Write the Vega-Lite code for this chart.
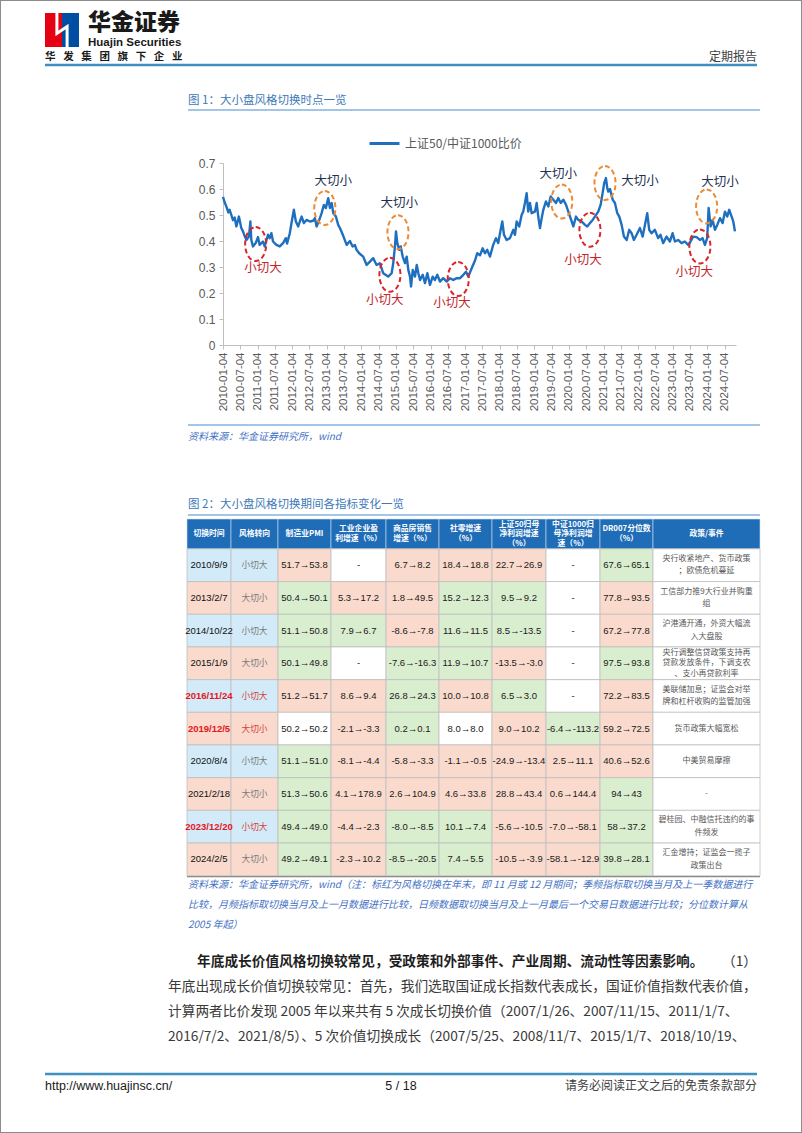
{
"$schema": "https://vega.github.io/schema/vega-lite/v6.json",
"width": 802,
"height": 1133,
"padding": 0,
"autosize": {"type": "none"},
"background": "#ffffff",
"config": {"view": {"stroke": "#8c8c8c", "strokeWidth": 2}, "font": "Noto Sans CJK SC"},
"datasets": {
"ratio": [
{"d":"2010-01-04","v":0.57},{"d":"2010-01-20","v":0.55},{"d":"2010-02-08","v":0.533},{"d":"2010-03-01","v":0.51},{"d":"2010-03-15","v":0.52},{"d":"2010-04-02","v":0.50},{"d":"2010-04-19","v":0.48},{"d":"2010-05-07","v":0.49},{"d":"2010-05-25","v":0.456},{"d":"2010-06-21","v":0.494},{"d":"2010-07-16","v":0.45},{"d":"2010-08-03","v":0.437},{"d":"2010-08-20","v":0.42},{"d":"2010-09-08","v":0.404},{"d":"2010-10-05","v":0.417},{"d":"2010-10-20","v":0.475},{"d":"2010-10-30","v":0.404},{"d":"2010-11-16","v":0.379},{"d":"2010-12-15","v":0.392},
{"d":"2011-01-08","v":0.415},{"d":"2011-01-26","v":0.385},{"d":"2011-03-02","v":0.398},{"d":"2011-03-20","v":0.379},{"d":"2011-04-24","v":0.424},{"d":"2011-05-12","v":0.411},{"d":"2011-05-30","v":0.43},{"d":"2011-06-16","v":0.398},{"d":"2011-07-22","v":0.385},{"d":"2011-08-26","v":0.379},{"d":"2011-09-30","v":0.392},{"d":"2011-10-29","v":0.411},{"d":"2011-11-11","v":0.39},{"d":"2011-12-10","v":0.43},{"d":"2011-12-28","v":0.469},
{"d":"2012-01-22","v":0.52},{"d":"2012-02-12","v":0.475},{"d":"2012-03-08","v":0.456},{"d":"2012-03-25","v":0.475},{"d":"2012-04-13","v":0.494},{"d":"2012-05-07","v":0.469},{"d":"2012-06-04","v":0.481},{"d":"2012-07-09","v":0.475},{"d":"2012-08-13","v":0.478},{"d":"2012-08-31","v":0.488},{"d":"2012-09-18","v":0.456},{"d":"2012-10-15","v":0.48},{"d":"2012-11-10","v":0.507},{"d":"2012-12-04","v":0.539},{"d":"2012-12-25","v":0.527},
{"d":"2013-01-19","v":0.565},{"d":"2013-02-06","v":0.527},{"d":"2013-02-24","v":0.546},{"d":"2013-03-13","v":0.507},{"d":"2013-04-10","v":0.494},{"d":"2013-05-04","v":0.462},{"d":"2013-05-22","v":0.45},{"d":"2013-06-26","v":0.42},{"d":"2013-08-01","v":0.385},{"d":"2013-09-05","v":0.40},{"d":"2013-10-03","v":0.379},{"d":"2013-10-27","v":0.385},{"d":"2013-11-14","v":0.366},{"d":"2013-12-11","v":0.353},
{"d":"2014-01-23","v":0.34},{"d":"2014-02-28","v":0.308},{"d":"2014-04-04","v":0.321},{"d":"2014-05-08","v":0.334},{"d":"2014-06-13","v":0.308},{"d":"2014-07-18","v":0.314},{"d":"2014-08-22","v":0.276},{"d":"2014-10-14","v":0.263},{"d":"2014-11-19","v":0.276},{"d":"2014-12-06","v":0.315},{"d":"2014-12-24","v":0.379},
{"d":"2015-01-04","v":0.437},{"d":"2015-01-18","v":0.392},{"d":"2015-02-08","v":0.366},{"d":"2015-02-23","v":0.379},{"d":"2015-03-16","v":0.34},{"d":"2015-04-09","v":0.315},{"d":"2015-04-27","v":0.34},{"d":"2015-05-14","v":0.289},{"d":"2015-06-01","v":0.263},{"d":"2015-06-12","v":0.225},{"d":"2015-06-30","v":0.289},{"d":"2015-07-24","v":0.263},{"d":"2015-08-11","v":0.308},{"d":"2015-08-28","v":0.276},{"d":"2015-09-15","v":0.25},{"d":"2015-10-13","v":0.27},{"d":"2015-11-06","v":0.238},{"d":"2015-12-01","v":0.276},{"d":"2015-12-29","v":0.231},
{"d":"2016-01-26","v":0.263},{"d":"2016-02-19","v":0.25},{"d":"2016-03-15","v":0.27},{"d":"2016-04-12","v":0.244},{"d":"2016-05-17","v":0.257},{"d":"2016-06-22","v":0.244},{"d":"2016-07-27","v":0.257},{"d":"2016-08-31","v":0.25},{"d":"2016-10-06","v":0.257},{"d":"2016-11-10","v":0.257},{"d":"2016-12-15","v":0.27},
{"d":"2017-01-12","v":0.282},{"d":"2017-02-05","v":0.263},{"d":"2017-03-13","v":0.295},{"d":"2017-04-17","v":0.325},{"d":"2017-05-11","v":0.353},{"d":"2017-06-09","v":0.345},{"d":"2017-07-07","v":0.372},{"d":"2017-07-31","v":0.353},{"d":"2017-08-24","v":0.366},{"d":"2017-09-22","v":0.34},{"d":"2017-10-26","v":0.385},{"d":"2017-11-24","v":0.411},{"d":"2017-12-18","v":0.392},
{"d":"2018-01-13","v":0.443},{"d":"2018-01-30","v":0.475},{"d":"2018-02-17","v":0.424},{"d":"2018-03-17","v":0.404},{"d":"2018-04-21","v":0.411},{"d":"2018-05-26","v":0.443},{"d":"2018-06-13","v":0.424},{"d":"2018-07-01","v":0.475},{"d":"2018-07-28","v":0.456},{"d":"2018-08-22","v":0.50},{"d":"2018-09-08","v":0.513},{"d":"2018-09-26","v":0.546},{"d":"2018-10-14","v":0.584},{"d":"2018-10-31","v":0.513},{"d":"2018-11-18","v":0.546},{"d":"2018-12-06","v":0.507},
{"d":"2019-01-10","v":0.513},{"d":"2019-01-28","v":0.546},{"d":"2019-02-14","v":0.494},{"d":"2019-03-04","v":0.45},{"d":"2019-03-22","v":0.488},{"d":"2019-04-08","v":0.52},{"d":"2019-05-06","v":0.552},{"d":"2019-05-31","v":0.533},{"d":"2019-06-25","v":0.571},{"d":"2019-07-23","v":0.559},{"d":"2019-08-20","v":0.546},{"d":"2019-09-13","v":0.565},{"d":"2019-10-09","v":0.546},{"d":"2019-11-05","v":0.559},{"d":"2019-12-04","v":0.539},{"d":"2019-12-28","v":0.513},
{"d":"2020-01-15","v":0.494},{"d":"2020-02-02","v":0.475},{"d":"2020-02-19","v":0.456},{"d":"2020-03-18","v":0.494},{"d":"2020-04-11","v":0.481},{"d":"2020-05-17","v":0.475},{"d":"2020-06-21","v":0.462},{"d":"2020-07-15","v":0.456},{"d":"2020-08-13","v":0.469},{"d":"2020-09-10","v":0.481},{"d":"2020-10-04","v":0.494},{"d":"2020-11-08","v":0.513},{"d":"2020-12-03","v":0.539},{"d":"2020-12-24","v":0.584},
{"d":"2021-01-10","v":0.623},{"d":"2021-01-28","v":0.642},{"d":"2021-02-11","v":0.604},{"d":"2021-02-22","v":0.59},{"d":"2021-03-12","v":0.60},{"d":"2021-04-09","v":0.559},{"d":"2021-05-03","v":0.546},{"d":"2021-05-28","v":0.507},{"d":"2021-06-18","v":0.494},{"d":"2021-07-13","v":0.462},{"d":"2021-08-06","v":0.417},{"d":"2021-09-04","v":0.404},{"d":"2021-10-01","v":0.443},{"d":"2021-10-26","v":0.43},{"d":"2021-11-19","v":0.404},{"d":"2021-12-18","v":0.424},
{"d":"2022-01-22","v":0.45},{"d":"2022-02-20","v":0.417},{"d":"2022-03-16","v":0.462},{"d":"2022-04-09","v":0.507},{"d":"2022-04-30","v":0.443},{"d":"2022-05-25","v":0.43},{"d":"2022-06-29","v":0.443},{"d":"2022-08-02","v":0.411},{"d":"2022-08-27","v":0.424},{"d":"2022-09-24","v":0.392},{"d":"2022-10-30","v":0.417},{"d":"2022-12-04","v":0.398},
{"d":"2023-01-02","v":0.43},{"d":"2023-01-26","v":0.398},{"d":"2023-03-01","v":0.404},{"d":"2023-04-06","v":0.392},{"d":"2023-05-11","v":0.398},{"d":"2023-06-15","v":0.385},{"d":"2023-07-10","v":0.398},{"d":"2023-08-07","v":0.417},{"d":"2023-09-12","v":0.415},{"d":"2023-10-17","v":0.404},{"d":"2023-11-14","v":0.411},{"d":"2023-12-09","v":0.385},
{"d":"2024-01-02","v":0.411},{"d":"2024-01-17","v":0.527},{"d":"2024-02-07","v":0.456},{"d":"2024-02-28","v":0.481},{"d":"2024-03-24","v":0.443},{"d":"2024-04-17","v":0.462},{"d":"2024-05-16","v":0.488},{"d":"2024-06-13","v":0.469},{"d":"2024-07-07","v":0.513},{"d":"2024-07-31","v":0.494},{"d":"2024-08-21","v":0.52},{"d":"2024-09-16","v":0.494},{"d":"2024-10-03","v":0.475},{"d":"2024-10-21","v":0.437}
],
"rings": [
{"d":"2010-12-15","v":0.388,"k":"小切大"},{"d":"2012-12-14","v":0.527,"k":"大切小"},{"d":"2014-11-01","v":0.27,"k":"小切大"},{"d":"2015-01-25","v":0.434,"k":"大切小"},{"d":"2016-10-22","v":0.254,"k":"小切大"},{"d":"2019-10-20","v":0.552,"k":"大切小"},{"d":"2020-08-12","v":0.443,"k":"小切大"},{"d":"2021-01-18","v":0.623,"k":"大切小"},{"d":"2023-10-17","v":0.379,"k":"小切大"},{"d":"2023-12-27","v":0.533,"k":"大切小"}
],
"tags": [
{"d":"2011-03-02","v":0.295,"k":"小切大"},{"d":"2013-03-13","v":0.629,"k":"大切小"},{"d":"2014-09-08","v":0.175,"k":"小切大"},{"d":"2015-02-08","v":0.546,"k":"大切小"},{"d":"2016-08-16","v":0.16,"k":"小切大"},{"d":"2019-09-13","v":0.659,"k":"大切小"},{"d":"2020-06-01","v":0.327,"k":"小切大"},{"d":"2022-01-22","v":0.629,"k":"大切小"},{"d":"2023-08-17","v":0.282,"k":"小切大"},{"d":"2024-05-16","v":0.627,"k":"大切小"}
],
"cells": [
{"r":0,"c":0,"t":"切换时间","s":"head"},{"r":0,"c":1,"t":"风格转向","s":"head"},{"r":0,"c":2,"t":"制造业PMI","s":"head"},{"r":0,"c":3,"t":"工业企业盈\n利增速（%）","s":"head"},{"r":0,"c":4,"t":"商品房销售\n增速（%）","s":"head"},{"r":0,"c":5,"t":"社零增速\n（%）","s":"head"},{"r":0,"c":6,"t":"上证50归母\n净利润增速\n（%）","s":"head"},{"r":0,"c":7,"t":"中证1000归\n母净利润增\n速（%）","s":"head"},{"r":0,"c":8,"t":"DR007分位数\n（%）","s":"head"},{"r":0,"c":9,"t":"政策/事件","s":"head"},
{"r":1,"c":0,"t":"2010/9/9","s":"xq"},{"r":1,"c":1,"t":"小切大","s":"xq"},{"r":1,"c":2,"t":"51.7→53.8","s":"up"},{"r":1,"c":3,"t":"-","s":"na"},{"r":1,"c":4,"t":"6.7→8.2","s":"up"},{"r":1,"c":5,"t":"18.4→18.8","s":"up"},{"r":1,"c":6,"t":"22.7→26.9","s":"up"},{"r":1,"c":7,"t":"-","s":"na"},{"r":1,"c":8,"t":"67.6→65.1","s":"down"},{"r":1,"c":9,"t":"央行收紧地产、货币政策\n；欧债危机蔓延","s":"na"},
{"r":2,"c":0,"t":"2013/2/7","s":"dq"},{"r":2,"c":1,"t":"大切小","s":"dq"},{"r":2,"c":2,"t":"50.4→50.1","s":"down"},{"r":2,"c":3,"t":"5.3→17.2","s":"up"},{"r":2,"c":4,"t":"1.8→49.5","s":"up"},{"r":2,"c":5,"t":"15.2→12.3","s":"down"},{"r":2,"c":6,"t":"9.5→9.2","s":"down"},{"r":2,"c":7,"t":"-","s":"na"},{"r":2,"c":8,"t":"77.8→93.5","s":"up"},{"r":2,"c":9,"t":"工信部力推9大行业并购重\n组","s":"na"},
{"r":3,"c":0,"t":"2014/10/22","s":"xq"},{"r":3,"c":1,"t":"小切大","s":"xq"},{"r":3,"c":2,"t":"51.1→50.8","s":"down"},{"r":3,"c":3,"t":"7.9→6.7","s":"down"},{"r":3,"c":4,"t":"-8.6→-7.8","s":"up"},{"r":3,"c":5,"t":"11.6→11.5","s":"down"},{"r":3,"c":6,"t":"8.5→-13.5","s":"down"},{"r":3,"c":7,"t":"-","s":"na"},{"r":3,"c":8,"t":"67.2→77.8","s":"up"},{"r":3,"c":9,"t":"沪港通开通，外资大幅流\n入大盘股","s":"na"},
{"r":4,"c":0,"t":"2015/1/9","s":"dq"},{"r":4,"c":1,"t":"大切小","s":"dq"},{"r":4,"c":2,"t":"50.1→49.8","s":"down"},{"r":4,"c":3,"t":"-","s":"na"},{"r":4,"c":4,"t":"-7.6→-16.3","s":"down"},{"r":4,"c":5,"t":"11.9→10.7","s":"down"},{"r":4,"c":6,"t":"-13.5→-3.0","s":"up"},{"r":4,"c":7,"t":"-","s":"na"},{"r":4,"c":8,"t":"97.5→93.8","s":"down"},{"r":4,"c":9,"t":"央行调整信贷政策支持再\n贷款发放条件，下调支农\n、支小再贷款利率","s":"na"},
{"r":5,"c":0,"t":"2016/11/24","s":"xq","hl":1},{"r":5,"c":1,"t":"小切大","s":"xq","hl":1},{"r":5,"c":2,"t":"51.2→51.7","s":"up"},{"r":5,"c":3,"t":"8.6→9.4","s":"up"},{"r":5,"c":4,"t":"26.8→24.3","s":"down"},{"r":5,"c":5,"t":"10.0→10.8","s":"up"},{"r":5,"c":6,"t":"6.5→3.0","s":"down"},{"r":5,"c":7,"t":"-","s":"na"},{"r":5,"c":8,"t":"72.2→83.5","s":"up"},{"r":5,"c":9,"t":"美联储加息；证监会对举\n牌和杠杆收购的监管加强","s":"na"},
{"r":6,"c":0,"t":"2019/12/5","s":"dq","hl":1},{"r":6,"c":1,"t":"大切小","s":"dq","hl":1},{"r":6,"c":2,"t":"50.2→50.2","s":"na"},{"r":6,"c":3,"t":"-2.1→-3.3","s":"up"},{"r":6,"c":4,"t":"0.2→0.1","s":"down"},{"r":6,"c":5,"t":"8.0→8.0","s":"na"},{"r":6,"c":6,"t":"9.0→10.2","s":"up"},{"r":6,"c":7,"t":"-6.4→-113.2","s":"down"},{"r":6,"c":8,"t":"59.2→72.5","s":"up"},{"r":6,"c":9,"t":"货币政策大幅宽松","s":"na"},
{"r":7,"c":0,"t":"2020/8/4","s":"xq"},{"r":7,"c":1,"t":"小切大","s":"xq"},{"r":7,"c":2,"t":"51.1→51.0","s":"down"},{"r":7,"c":3,"t":"-8.1→-4.4","s":"up"},{"r":7,"c":4,"t":"-5.8→-3.3","s":"up"},{"r":7,"c":5,"t":"-1.1→-0.5","s":"up"},{"r":7,"c":6,"t":"-24.9→-13.4","s":"up"},{"r":7,"c":7,"t":"2.5→11.1","s":"up"},{"r":7,"c":8,"t":"40.6→52.6","s":"up"},{"r":7,"c":9,"t":"中美贸易摩擦","s":"na"},
{"r":8,"c":0,"t":"2021/2/18","s":"dq"},{"r":8,"c":1,"t":"大切小","s":"dq"},{"r":8,"c":2,"t":"51.3→50.6","s":"down"},{"r":8,"c":3,"t":"4.1→178.9","s":"up"},{"r":8,"c":4,"t":"2.6→104.9","s":"up"},{"r":8,"c":5,"t":"4.6→33.8","s":"up"},{"r":8,"c":6,"t":"28.8→43.4","s":"up"},{"r":8,"c":7,"t":"0.6→144.4","s":"up"},{"r":8,"c":8,"t":"94→43","s":"down"},{"r":8,"c":9,"t":"-","s":"na"},
{"r":9,"c":0,"t":"2023/12/20","s":"xq","hl":1},{"r":9,"c":1,"t":"小切大","s":"xq","hl":1},{"r":9,"c":2,"t":"49.4→49.0","s":"down"},{"r":9,"c":3,"t":"-4.4→-2.3","s":"up"},{"r":9,"c":4,"t":"-8.0→-8.5","s":"down"},{"r":9,"c":5,"t":"10.1→7.4","s":"down"},{"r":9,"c":6,"t":"-5.6→-10.5","s":"up"},{"r":9,"c":7,"t":"-7.0→-58.1","s":"up"},{"r":9,"c":8,"t":"58→37.2","s":"down"},{"r":9,"c":9,"t":"碧桂园、中融信托违约的事\n件频发","s":"na"},
{"r":10,"c":0,"t":"2024/2/5","s":"dq"},{"r":10,"c":1,"t":"大切小","s":"dq"},{"r":10,"c":2,"t":"49.2→49.1","s":"down"},{"r":10,"c":3,"t":"-2.3→10.2","s":"up"},{"r":10,"c":4,"t":"-8.5→-20.5","s":"down"},{"r":10,"c":5,"t":"7.4→5.5","s":"down"},{"r":10,"c":6,"t":"-10.5→-3.9","s":"up"},{"r":10,"c":7,"t":"-58.1→-12.9","s":"up"},{"r":10,"c":8,"t":"39.8→28.1","s":"down"},{"r":10,"c":9,"t":"汇金增持；证监会一揽子\n政策出台","s":"na"}
],
"page": [
{"id":0,"g":"brand","t":"华金证券"},
{"id":1,"g":"en","t":"Huajin Securities"},
{"id":2,"g":"slogan","t":"华\u2002\u00a0发\u2002\u00a0集\u2002\u00a0团\u2002\u00a0旗\u2002\u00a0下\u2002\u00a0企\u2002\u00a0业"},
{"id":3,"g":"hdrR","t":"定期报告"},
{"id":4,"g":"fig","t":"图 1：大小盘风格切换时点一览"},
{"id":5,"g":"note","t":"资料来源：华金证券研究所，wind"},
{"id":6,"g":"fig","t":"图 2：大小盘风格切换期间各指标变化一览"},
{"id":7,"g":"note","t":"资料来源：华金证券研究所，wind（注：标红为风格切换在年末，即 11 月或 12 月期间；季频指标取切换当月及上一季数据进行"},
{"id":8,"g":"note","t":"比较，月频指标取切换当月及上一月数据进行比较，日频数据取切换当月及上一月最后一个交易日数据进行比较；分位数计算从"},
{"id":9,"g":"note","t":"2005 年起）"},
{"id":10,"g":"paraB","t":"年底成长价值风格切换较常见，受政策和外部事件、产业周期、流动性等因素影响。"},
{"id":11,"g":"paraR","t":"（1）"},
{"id":12,"g":"para","t":"年底出现成长价值切换较常见：首先，我们选取国证成长指数代表成长，国证价值指数代表价值，"},
{"id":13,"g":"para","t":"计算两者比价发现 2005 年以来共有 5 次成长切换价值（2007/1/26、2007/11/15、2011/1/7、"},
{"id":14,"g":"para","t":"2016/7/2、2021/8/5）、5 次价值切换成长（2007/5/25、2008/11/7、2015/1/7、2018/10/19、"},
{"id":15,"g":"footL","t":"http://www.huajinsc.cn/"},
{"id":16,"g":"footC","t":"5 / 18"},
{"id":17,"g":"footR","t":"请务必阅读正文之后的免责条款部分"}
],
"rules": [
{"a":0,"b":1,"kind":"page"},{"a":2,"b":3,"kind":"fig"},{"a":4,"b":5,"kind":"fig"},{"a":6,"b":7,"kind":"fig"},{"a":8,"b":9,"kind":"table"},{"a":10,"b":11,"kind":"page"}
],
"logo": [
{"p":"L","m":"华金"},{"p":"R","m":"华金"}
]
},
"layer": [
{
"data": {"name": "logo"},
"encoding": {
"x": {"field": "p", "type": "nominal", "scale": {"type": "band", "domain": ["L", "R"], "range": [45, 79], "paddingInner": 0, "paddingOuter": 0}, "axis": null},
"y": {"field": "m", "type": "nominal", "scale": {"type": "band", "domain": ["华金"], "range": [13, 47], "paddingInner": 0, "paddingOuter": 0}, "axis": null}
},
"layer": [
{"mark": {"type": "rect"}, "encoding": {"color": {"field": "p", "type": "nominal", "scale": {"domain": ["L", "R"], "range": ["#e50012", "#004ea2"]}, "legend": null}}},
{"transform": [{"filter": "datum.p === 'R'"}], "mark": {"type": "point", "shape": "M-0.3,-1L-0.3,0.2L0.3,-0.2L0.3,1", "filled": false, "stroke": "#ffffff", "strokeWidth": 3, "size": 1156, "opacity": 1}, "encoding": {"x": {"field": "p", "type": "nominal", "bandPosition": 0}}}
]
},
{
"data": {"name": "rules"},
"mark": {"type": "rule"},
"encoding": {
"x": {"field": "a", "type": "quantitative", "scale": {"domain": [0,1,2,3,4,5,6,7,8,9,10,11], "range": [45,757,188,760,188,760,188,760,187,760,45,757], "nice": false, "zero": false}, "axis": null},
"x2": {"field": "b"},
"y": {"field": "a", "type": "quantitative", "scale": {"domain": [0,2,4,6,8,10], "range": [65,110,425,515,876.5,1074], "nice": false, "zero": false}, "axis": null},
"color": {"field": "kind", "type": "nominal", "scale": {"domain": ["page","fig","table"], "range": ["#3f8fbf","#a3c6e8","#808080"]}, "legend": null},
"strokeWidth": {"field": "kind", "type": "ordinal", "scale": {"domain": ["page","fig","table"], "range": [2.5,1.5,1.5]}, "legend": null}
}
},
{
"data": {"name": "page"},
"encoding": {
"x": {"field": "id", "type": "quantitative", "scale": {"domain": [0,1,2,3,4,5,6,7,8,9,10,11,12,13,14,15,16,17], "range": [88,88,45,757,188,188,188,188,188,188,197,757,168,168,168,45,401,757], "nice": false, "zero": false}, "axis": null},
"y": {"field": "id", "type": "quantitative", "scale": {"domain": [0,1,2,3,4,5,6,7,8,9,10,11,12,13,14,15,16,17], "range": [23,43,57,57,101,437,505,885,905,925,962,962,987,1012,1037,1086,1086,1086], "nice": false, "zero": false}, "axis": null},
"text": {"field": "t"}
},
"layer": [
{"transform": [{"filter": "datum.g === 'brand'"}], "mark": {"type": "text", "align": "left", "baseline": "middle", "font": "Noto Sans CJK SC", "fontSize": 23, "fontWeight": 900, "color": "#1a1a1a"}},
{"transform": [{"filter": "datum.g === 'en'"}], "mark": {"type": "text", "align": "left", "baseline": "middle", "font": "Liberation Sans", "fontSize": 11.5, "fontWeight": "bold", "color": "#1a1a1a"}},
{"transform": [{"filter": "datum.g === 'slogan'"}], "mark": {"type": "text", "align": "left", "baseline": "middle", "font": "Noto Sans CJK SC", "fontSize": 10.5, "fontWeight": "bold", "color": "#1a1a1a"}},
{"transform": [{"filter": "datum.g === 'hdrR'"}], "mark": {"type": "text", "align": "right", "baseline": "middle", "font": "Noto Sans CJK SC", "fontSize": 12, "color": "#404040"}},
{"transform": [{"filter": "datum.g === 'fig'"}], "mark": {"type": "text", "align": "left", "baseline": "middle", "font": "Noto Sans CJK SC", "fontSize": 11.5, "color": "#3d7ab8"}},
{"transform": [{"filter": "datum.g === 'note'"}], "mark": {"type": "text", "align": "left", "baseline": "middle", "font": "Noto Sans CJK SC", "fontSize": 10, "fontStyle": "italic", "color": "#4472c4"}},
{"transform": [{"filter": "datum.g === 'paraB'"}], "mark": {"type": "text", "align": "left", "baseline": "middle", "font": "Noto Sans CJK SC", "fontSize": 13.7, "fontWeight": "bold", "color": "#1f1f1f"}},
{"transform": [{"filter": "datum.g === 'paraR'"}], "mark": {"type": "text", "align": "right", "baseline": "middle", "font": "Noto Sans CJK SC", "fontSize": 13.7, "color": "#333333"}},
{"transform": [{"filter": "datum.g === 'para'"}], "mark": {"type": "text", "align": "left", "baseline": "middle", "font": "Noto Sans CJK SC", "fontSize": 13.7, "color": "#3a3a3a"}},
{"transform": [{"filter": "datum.g === 'footL'"}], "mark": {"type": "text", "align": "left", "baseline": "middle", "font": "Liberation Sans", "fontSize": 12.5, "color": "#1a1a1a"}},
{"transform": [{"filter": "datum.g === 'footC'"}], "mark": {"type": "text", "align": "center", "baseline": "middle", "font": "Liberation Sans", "fontSize": 12.5, "color": "#1a1a1a"}},
{"transform": [{"filter": "datum.g === 'footR'"}], "mark": {"type": "text", "align": "right", "baseline": "middle", "font": "Noto Sans CJK SC", "fontSize": 12, "color": "#404040"}}
]
},
{
"encoding": {
"x": {"field": "d", "type": "temporal", "scale": {"domain": [{"year": 2010, "month": 1, "date": 4}, {"year": 2024, "month": 11, "date": 1}], "range": [223, 736], "nice": false},
"axis": {"orient": "bottom", "offset": -788, "title": null, "grid": false, "format": "%Y-%m-%d", "labelAngle": -90, "labelFont": "Liberation Sans", "labelFontSize": 11.5, "labelColor": "#595959", "labelPadding": 3, "labelOverlap": false, "labelFlush": false, "domainColor": "#bfbfbf", "tickColor": "#bfbfbf", "tickSize": 4,
"values": [{"year":2010,"month":1,"date":4},{"year":2010,"month":7,"date":4},{"year":2011,"month":1,"date":4},{"year":2011,"month":7,"date":4},{"year":2012,"month":1,"date":4},{"year":2012,"month":7,"date":4},{"year":2013,"month":1,"date":4},{"year":2013,"month":7,"date":4},{"year":2014,"month":1,"date":4},{"year":2014,"month":7,"date":4},{"year":2015,"month":1,"date":4},{"year":2015,"month":7,"date":4},{"year":2016,"month":1,"date":4},{"year":2016,"month":7,"date":4},{"year":2017,"month":1,"date":4},{"year":2017,"month":7,"date":4},{"year":2018,"month":1,"date":4},{"year":2018,"month":7,"date":4},{"year":2019,"month":1,"date":4},{"year":2019,"month":7,"date":4},{"year":2020,"month":1,"date":4},{"year":2020,"month":7,"date":4},{"year":2021,"month":1,"date":4},{"year":2021,"month":7,"date":4},{"year":2022,"month":1,"date":4},{"year":2022,"month":7,"date":4},{"year":2023,"month":1,"date":4},{"year":2023,"month":7,"date":4},{"year":2024,"month":1,"date":4},{"year":2024,"month":7,"date":4}]}},
"y": {"field": "v", "type": "quantitative", "scale": {"domain": [0, 0.7], "range": [345, 163], "nice": false, "zero": false},
"axis": {"orient": "left", "offset": -223, "title": null, "grid": false, "values": [0,0.1,0.2,0.3,0.4,0.5,0.6,0.7], "format": ".1~f", "labelFont": "Liberation Sans", "labelFontSize": 12, "labelColor": "#595959", "labelPadding": 4, "domainColor": "#bfbfbf", "tickColor": "#bfbfbf", "tickSize": 4}}
},
"layer": [
{"data": {"name": "ratio"}, "mark": {"type": "line", "strokeWidth": 2.4, "strokeJoin": "round"},
"encoding": {"color": {"datum": "上证50/中证1000比价", "type": "nominal", "scale": {"range": ["#1f6fc0"]},
"legend": {"orient": "none", "legendX": 368, "legendY": 127, "title": null, "padding": 0, "symbolType": "stroke", "symbolStrokeWidth": 3, "symbolSize": 900, "labelFont": "Noto Sans CJK SC", "labelFontSize": 12, "labelColor": "#595959", "labelOffset": 4}}}},
{"data": {"name": "rings"}, "mark": {"type": "point", "shape": "M0,-1A0.62,1 0 1,1 0,1A0.62,1 0 1,1 0,-1Z", "filled": false, "strokeWidth": 2, "strokeDash": [5, 3], "size": 1156, "opacity": 1},
"encoding": {"stroke": {"field": "k", "type": "nominal", "scale": {"domain": ["大切小", "小切大"], "range": ["#ec8a35", "#d8262d"]}, "legend": null}}},
{"data": {"name": "tags"}, "mark": {"type": "text", "align": "center", "baseline": "middle", "font": "Noto Sans CJK SC", "fontSize": 12.5},
"encoding": {"text": {"field": "k"}, "fill": {"field": "k", "type": "nominal", "scale": {"domain": ["大切小", "小切大"], "range": ["#22304f", "#c3262c"]}, "legend": null}}}
],
"resolve": {"scale": {"color": "independent"}}
},
{
"data": {"name": "cells"},
"encoding": {
"x": {"field": "c", "type": "quantitative", "scale": {"domain": [0,1,2,3,4,5,6,7,8,9], "range": [209,254.5,304.5,358.5,412.5,465.5,519,573,626.5,706.5], "nice": false, "zero": false}, "axis": null},
"y": {"field": "r", "type": "quantitative", "scale": {"domain": [0,1,2,3,4,5,6,7,8,9,10], "range": [534,565.2,597.9,630.6,663.3,696,728.6,761.3,794,826.7,859.4], "nice": false, "zero": false}, "axis": null}
},
"layer": [
{"transform": [{"filter": "datum.r === 0"}], "mark": {"type": "tick", "orient": "horizontal", "thickness": 30, "stroke": "#cfe0f2", "strokeWidth": 0.6, "opacity": 1},
"encoding": {"size": {"field": "c", "type": "quantitative", "scale": {"domain": [0,1,2,3,4,5,6,7,8,9], "range": [44,47,53,55,53,53,54,54,53,107], "nice": false, "zero": false}, "legend": null},
"color": {"field": "s", "type": "nominal", "scale": {"domain": ["head","up","down","na","xq","dq"], "range": ["#1f6cb7","#f9dacd","#d9edcf","#ffffff","#d3ebf8","#f9dacd"]}, "legend": null}}},
{"transform": [{"filter": "datum.r > 0"}], "mark": {"type": "tick", "orient": "horizontal", "thickness": 32.7, "stroke": "#bfbfbf", "strokeWidth": 0.8, "opacity": 1},
"encoding": {"size": {"field": "c", "type": "quantitative", "scale": {"domain": [0,1,2,3,4,5,6,7,8,9], "range": [44,47,53,55,53,53,54,54,53,107], "nice": false, "zero": false}, "legend": null},
"color": {"field": "s", "type": "nominal", "scale": {"domain": ["head","up","down","na","xq","dq"], "range": ["#1f6cb7","#f9dacd","#d9edcf","#ffffff","#d3ebf8","#f9dacd"]}, "legend": null}}},
{"transform": [{"filter": "datum.r === 0 && (datum.c <= 2 || datum.c === 9)"}], "mark": {"type": "text", "align": "center", "baseline": "middle", "font": "Noto Sans CJK SC", "fontSize": 7.8, "fontWeight": "bold", "color": "#ffffff"}, "encoding": {"text": {"field": "t"}}},
{"transform": [{"filter": "datum.r === 0 && (datum.c === 3 || datum.c === 4 || datum.c === 5 || datum.c === 8)"}], "mark": {"type": "text", "align": "center", "baseline": "middle", "font": "Noto Sans CJK SC", "fontSize": 7.8, "fontWeight": "bold", "color": "#ffffff", "lineBreak": "\n", "lineHeight": 10.5, "dy": -5.25}, "encoding": {"text": {"field": "t"}}},
{"transform": [{"filter": "datum.r === 0 && (datum.c === 6 || datum.c === 7)"}], "mark": {"type": "text", "align": "center", "baseline": "middle", "font": "Noto Sans CJK SC", "fontSize": 7.8, "fontWeight": "bold", "color": "#ffffff", "lineBreak": "\n", "lineHeight": 9.5, "dy": -9.5}, "encoding": {"text": {"field": "t"}}},
{"transform": [{"filter": "datum.r > 0 && datum.c === 0 && datum.hl !== 1"}], "mark": {"type": "text", "align": "center", "baseline": "middle", "font": "Liberation Sans", "fontSize": 9.5, "color": "#111111"}, "encoding": {"text": {"field": "t"}}},
{"transform": [{"filter": "datum.c === 0 && datum.hl === 1"}], "mark": {"type": "text", "align": "center", "baseline": "middle", "font": "Liberation Sans", "fontSize": 9.5, "fontWeight": "bold", "color": "#e3161d"}, "encoding": {"text": {"field": "t"}}},
{"transform": [{"filter": "datum.r > 0 && datum.c === 1 && datum.hl !== 1"}], "mark": {"type": "text", "align": "center", "baseline": "middle", "font": "Noto Sans CJK SC", "fontSize": 8.7, "color": "#7a7a7a"}, "encoding": {"text": {"field": "t"}}},
{"transform": [{"filter": "datum.c === 1 && datum.hl === 1"}], "mark": {"type": "text", "align": "center", "baseline": "middle", "font": "Noto Sans CJK SC", "fontSize": 8.7, "color": "#d9403a"}, "encoding": {"text": {"field": "t"}}},
{"transform": [{"filter": "datum.r > 0 && datum.c >= 2 && datum.c <= 8"}], "mark": {"type": "text", "align": "center", "baseline": "middle", "font": "Liberation Sans", "fontSize": 9.5, "color": "#1a1a1a"}, "encoding": {"text": {"field": "t"}}},
{"transform": [{"filter": "datum.c === 9 && (datum.r === 6 || datum.r === 7 || datum.r === 8)"}], "mark": {"type": "text", "align": "center", "baseline": "middle", "font": "Noto Sans CJK SC", "fontSize": 8, "color": "#595959"}, "encoding": {"text": {"field": "t"}}},
{"transform": [{"filter": "datum.c === 9 && (datum.r === 1 || datum.r === 2 || datum.r === 3 || datum.r === 5 || datum.r === 9 || datum.r === 10)"}], "mark": {"type": "text", "align": "center", "baseline": "middle", "font": "Noto Sans CJK SC", "fontSize": 8, "color": "#595959", "lineBreak": "\n", "lineHeight": 12.5, "dy": -6.25}, "encoding": {"text": {"field": "t"}}},
{"transform": [{"filter": "datum.c === 9 && datum.r === 4"}], "mark": {"type": "text", "align": "center", "baseline": "middle", "font": "Noto Sans CJK SC", "fontSize": 8, "color": "#595959", "lineBreak": "\n", "lineHeight": 10.3, "dy": -10.3}, "encoding": {"text": {"field": "t"}}}
],
"resolve": {"scale": {"color": "independent"}}
}
],
"resolve": {"scale": {"x": "independent", "y": "independent", "color": "independent", "stroke": "independent", "fill": "independent", "size": "independent", "strokeWidth": "independent"}, "axis": {"x": "independent", "y": "independent"}, "legend": {"color": "independent"}}
}
